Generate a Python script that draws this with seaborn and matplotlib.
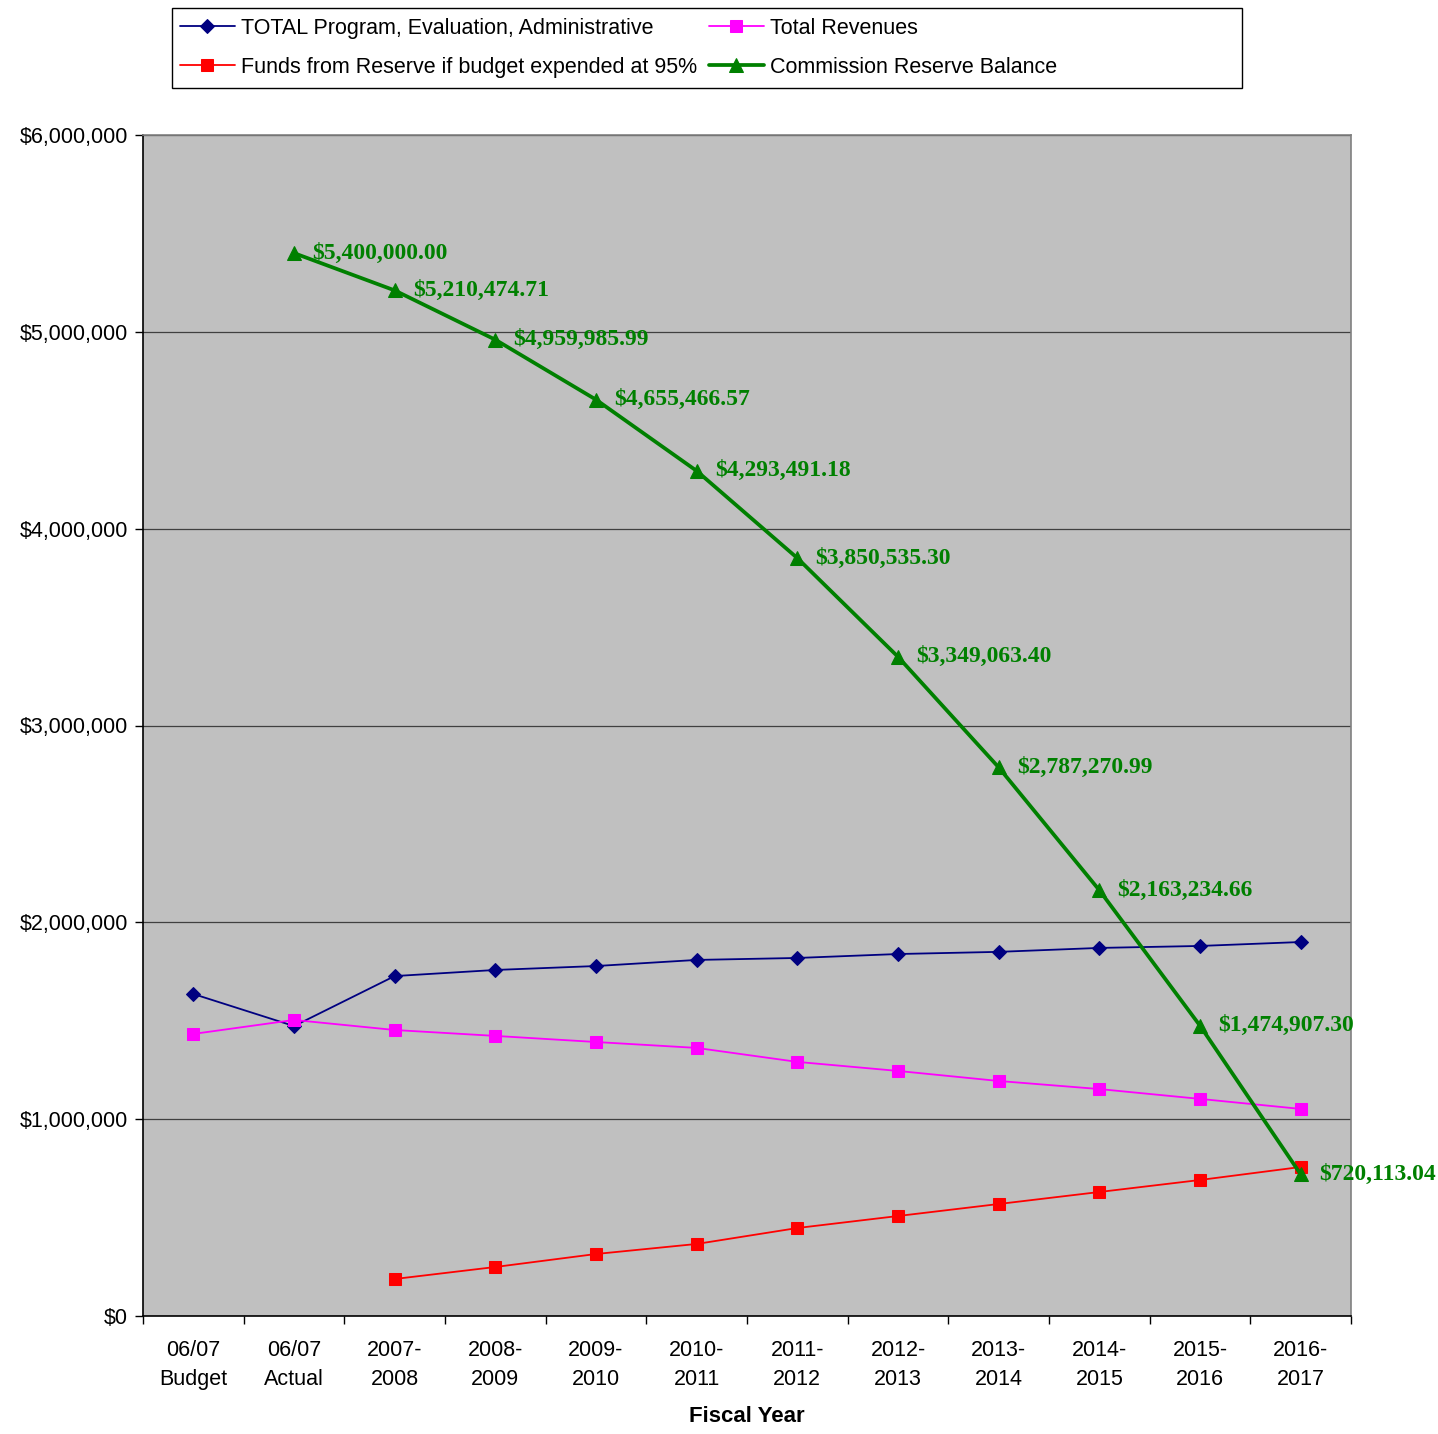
import numpy as np
import pandas as pd
import matplotlib
matplotlib.use("Agg")
import matplotlib.pyplot as plt
import seaborn as sns
from matplotlib.ticker import FuncFormatter, FixedLocator
from matplotlib.patches import Rectangle

categories = ["06/07\nBudget", "06/07\nActual", "2007-\n2008", "2008-\n2009", "2009-\n2010",
              "2010-\n2011", "2011-\n2012", "2012-\n2013", "2013-\n2014", "2014-\n2015",
              "2015-\n2016", "2016-\n2017"]

total_program = [1636000, 1473000, 1727000, 1758000, 1778000, 1809000, 1819000,
                 1839000, 1850000, 1870000, 1880000, 1900000]
total_revenues = [1433000, 1504000, 1453000, 1423000, 1392000, 1362000, 1291000,
                  1245000, 1194000, 1153000, 1103000, 1052000]
funds_from_reserve = [np.nan, np.nan, 188000, 249000, 315000, 366000, 447000,
                      508000, 569000, 630000, 691000, 757000]
reserve_balance = [np.nan, 5400000.00, 5210474.71, 4959985.99, 4655466.57, 4293491.18,
                   3850535.30, 3349063.40, 2787270.99, 2163234.66, 1474907.30, 720113.04]

series_names = ["TOTAL Program, Evaluation, Administrative", "Total Revenues",
                "Funds from Reserve if budget expended at 95%", "Commission Reserve Balance"]

sns.set_theme(style="white")
plt.rcParams['font.family'] = ['Liberation Sans', 'DejaVu Sans']
plt.rcParams['text.color'] = 'black'
plt.rcParams['xtick.color'] = 'black'
plt.rcParams['ytick.color'] = 'black'
plt.rcParams['axes.labelcolor'] = 'black'

W, H = 1438, 1434
fig = plt.figure(figsize=(W/100, H/100), dpi=100)
ax = fig.add_axes([143/W, 1 - 1316/H, (1351-143)/W, (1316-135)/H])
ax.set_facecolor("#C0C0C0")

x = np.arange(len(categories))
df = pd.DataFrame({"x": x, "prog": total_program, "rev": total_revenues,
                   "funds": funds_from_reserve, "res": reserve_balance})

sns.lineplot(data=df, x="x", y="prog", ax=ax, color="#000080", lw=1.3, marker="D",
             markersize=7.5, markeredgecolor="#000080", label=series_names[0], zorder=3)
sns.lineplot(data=df, x="x", y="rev", ax=ax, color="#FF00FF", lw=1.3, marker="s",
             markersize=8.5, markeredgecolor="#FF00FF", label=series_names[1], zorder=3)
dff = df.dropna(subset=["funds"])
sns.lineplot(data=dff, x="x", y="funds", ax=ax, color="#FF0000", lw=1.3, marker="s",
             markersize=8.5, markeredgecolor="#FF0000", label=series_names[2], zorder=3)
dfr = df.dropna(subset=["res"])
sns.lineplot(data=dfr, x="x", y="res", ax=ax, color="#008000", lw=2.7, marker="^",
             markersize=9.5, markeredgecolor="#008000", label=series_names[3], zorder=4)

for xi, v in zip(dfr["x"], dfr["res"]):
    ax.annotate(f"${v:,.2f}", (xi, v), xytext=(13, 0), textcoords="offset points",
                ha="left", va="center", color="#008000", fontsize=17, fontweight="bold",
                family=["Liberation Serif", "DejaVu Serif"], annotation_clip=False, zorder=5)

ax.set_xlim(-0.5, len(categories) - 0.5)
ax.set_ylim(0, 6000000)
ax.yaxis.set_major_locator(FixedLocator(np.arange(0, 6000001, 1000000)))
ax.yaxis.set_major_formatter(FuncFormatter(lambda v, p: f"${v:,.0f}"))
ax.grid(axis="y", color="#404040", lw=0.9)
ax.set_axisbelow(True)

ax.xaxis.set_major_locator(FixedLocator(np.arange(-0.5, len(categories), 1.0)))
ax.xaxis.set_major_formatter(FuncFormatter(lambda v, p: ""))
ax.xaxis.set_minor_locator(FixedLocator(x))
ax.set_xticklabels(categories, minor=True)
ax.tick_params(axis="x", which="major", direction="out", length=6, width=1, color="black", bottom=True)
ax.tick_params(axis="x", which="minor", length=0, labelsize=15.5, pad=17, bottom=True)
ax.tick_params(axis="y", which="major", direction="out", length=6, width=1, color="black",
               labelsize=15.5, left=True, pad=5)
for lbl in ax.get_xticklabels(minor=True):
    lbl.set_linespacing(1.5)

ax.set_xlabel("Fiscal Year", fontsize=16, fontweight="bold", labelpad=12)
ax.set_ylabel("")

for s in ["left", "bottom"]:
    ax.spines[s].set_color("black")
    ax.spines[s].set_linewidth(1.2)
for s in ["top", "right"]:
    ax.spines[s].set_color("#808080")
    ax.spines[s].set_linewidth(1.2)

ax.get_legend().remove()
handles, labels = ax.get_legend_handles_labels()
order = [0, 2, 1, 3]

# legend frame
fig.patches.append(Rectangle((172/W, 1 - 88/H), (1242-172)/W, (88-8)/H,
                             transform=fig.transFigure, facecolor="white",
                             edgecolor="black", lw=1.0, zorder=0))
leg = fig.legend([handles[i] for i in order], [labels[i] for i in order],
                 loc="upper left", bbox_to_anchor=(180/W, 1 - 18/H),
                 bbox_transform=fig.transFigure,
                 ncol=2, fontsize=15.5, frameon=False,
                 borderaxespad=0, borderpad=0, handlelength=2.55, handletextpad=0.28,
                 labelspacing=0.83, columnspacing=0.55)

fig.savefig("out.png", dpi=100, facecolor="white")
